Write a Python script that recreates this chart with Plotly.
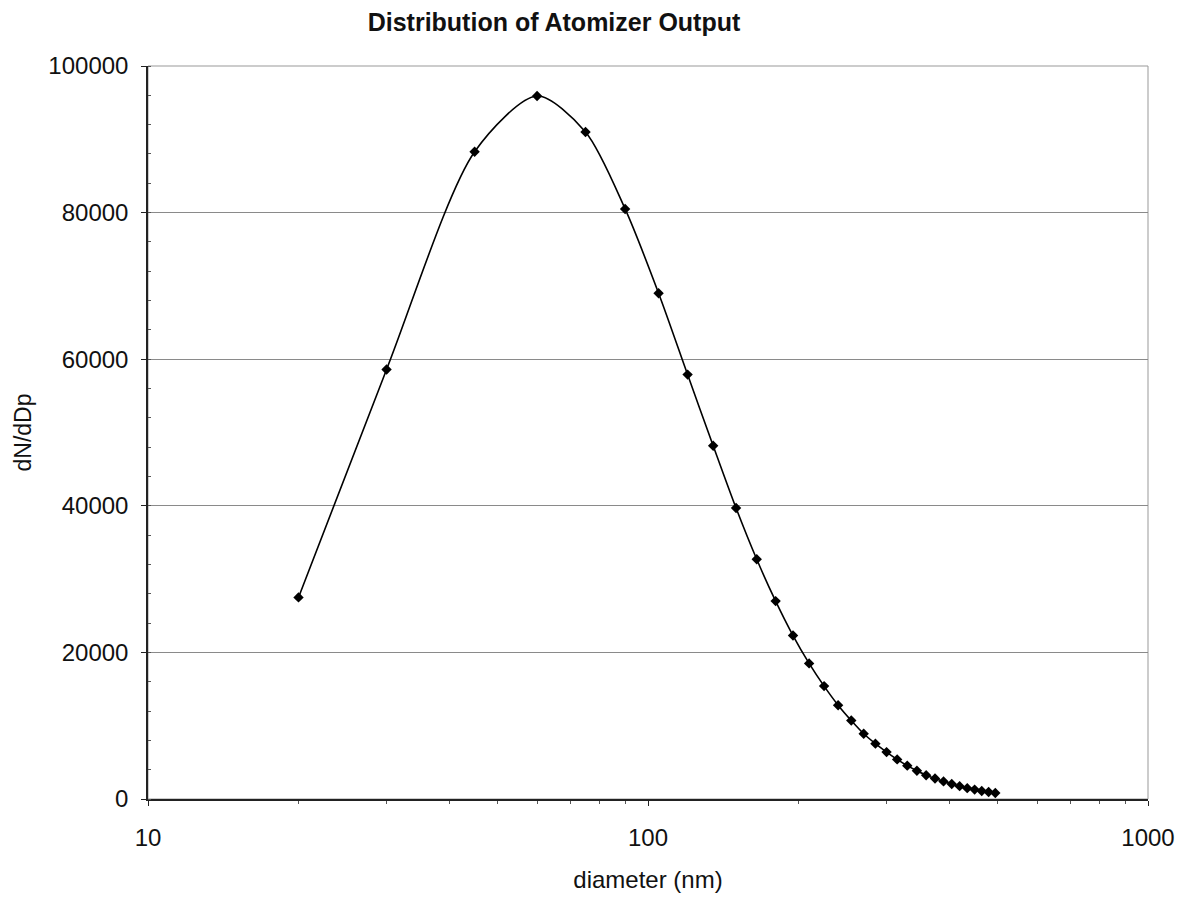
import plotly.graph_objects as go

diameter_nm = [20, 30, 45, 60, 75, 90, 105, 120, 135, 150, 165, 180, 195, 210,
               225, 240, 255, 270, 285, 300, 315, 330, 345, 360, 375, 390, 405,
               420, 435, 450, 465, 480, 495]
dn_ddp = [27500, 58600, 88300, 95900, 91000, 80500, 69000, 57900, 48200, 39700,
          32700, 27000, 22300, 18500, 15400, 12800, 10700, 8900, 7550, 6400,
          5400, 4550, 3850, 3250, 2800, 2400, 2050, 1750, 1480, 1280, 1100, 950, 820]

x_tickvals = [10, 100, 1000]
x_ticktext = ["10", "100", "1000"]
x_minor = [20, 30, 40, 50, 60, 70, 80, 90, 200, 300, 400, 500, 600, 700, 800, 900]
y_tickvals = [0, 20000, 40000, 60000, 80000, 100000]
y_minor = [4000 * i for i in range(26)]

FONT = "Liberation Sans, Arial, sans-serif"

fig = go.Figure()
fig.add_trace(go.Scatter(
    x=diameter_nm, y=dn_ddp, mode="lines+markers",
    line=dict(color="black", width=1.6, shape="spline", smoothing=0.8),
    marker=dict(symbol="diamond", size=8, color="black"),
    showlegend=False,
))

W, H = 1195, 899
L, R, T, B = 148, 47, 66, 100

fig.update_layout(
    width=W, height=H,
    margin=dict(l=L, r=R, t=T, b=B, autoexpand=False),
    paper_bgcolor="white", plot_bgcolor="white",
    font=dict(family=FONT, color="#111111", size=24),
    title=dict(text="<b>Distribution of Atomizer Output</b>",
               font=dict(family=FONT, size=25, color="#111111"),
               xref="paper", x=(554 - L) / (W - L - R), xanchor="center",
               yref="container", y=1 - 22 / H, yanchor="middle"),
    shapes=[dict(type="rect", xref="paper", yref="paper", x0=0, x1=1, y0=0, y1=1,
                 line=dict(color="#999999", width=1), layer="below")],
)

fig.update_xaxes(
    type="log", range=[1, 3],
    tickvals=x_tickvals, ticktext=x_ticktext,
    ticks="outside", ticklen=5, tickcolor="#222222", ticklabelstandoff=11,
    tickfont=dict(size=24),
    showgrid=False, zeroline=False,
    showline=True, linecolor="#222222", linewidth=1.5,
    minor=dict(tickvals=x_minor, ticks="outside", ticklen=3, tickcolor="#555555", showgrid=False),
    title=dict(text="diameter (nm)", font=dict(size=24), standoff=22),
    automargin=False,
)
fig.update_yaxes(
    range=[0, 100000], tickvals=y_tickvals, tickformat="d",
    ticks="outside", ticklen=5, tickcolor="#222222", ticklabelstandoff=8,
    tickfont=dict(size=24),
    showgrid=True, gridcolor="#8a8a8a", gridwidth=1, zeroline=False,
    showline=True, linecolor="#222222", linewidth=1.5,
    minor=dict(tickvals=y_minor, ticks="inside", ticklen=3, tickcolor="#555555", showgrid=False),
    title=dict(text="dN/dDp", font=dict(size=23), standoff=10),
    automargin=False,
)

fig.write_html("out.html")
